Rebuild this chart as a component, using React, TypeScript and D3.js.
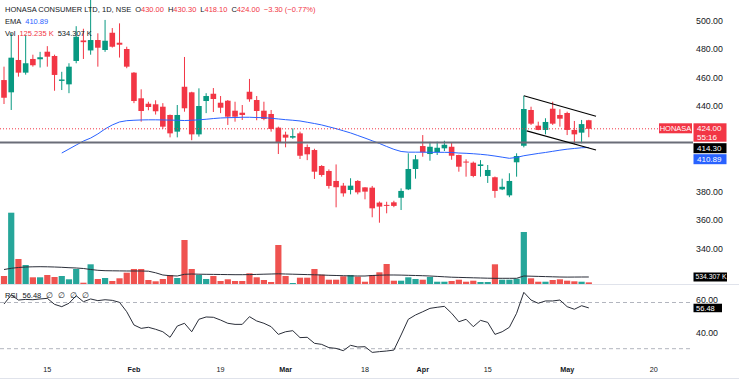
import React from "react";
import * as d3 from "d3";

// ---------------- data ----------------
const dates = [
  "2024-01-05","2024-01-08","2024-01-09","2024-01-10","2024-01-11","2024-01-12","2024-01-15","2024-01-16","2024-01-17","2024-01-18","2024-01-19","2024-01-20","2024-01-23","2024-01-24","2024-01-25","2024-01-29","2024-01-30","2024-01-31",
  "2024-02-01","2024-02-02","2024-02-05","2024-02-06","2024-02-07","2024-02-08","2024-02-09","2024-02-12","2024-02-13","2024-02-14","2024-02-15","2024-02-16","2024-02-19","2024-02-20","2024-02-21","2024-02-22","2024-02-23","2024-02-26","2024-02-27","2024-02-28","2024-02-29",
  "2024-03-01","2024-03-02","2024-03-04","2024-03-05","2024-03-06","2024-03-07","2024-03-11","2024-03-12","2024-03-13","2024-03-14","2024-03-15","2024-03-18","2024-03-19","2024-03-20","2024-03-21","2024-03-22","2024-03-26","2024-03-27","2024-03-28",
  "2024-04-01","2024-04-02","2024-04-03","2024-04-04","2024-04-05","2024-04-08","2024-04-09","2024-04-10","2024-04-12","2024-04-15","2024-04-16","2024-04-18","2024-04-19","2024-04-22","2024-04-23","2024-04-24","2024-04-25","2024-04-26","2024-04-29","2024-04-30",
  "2024-05-02","2024-05-03","2024-05-06","2024-05-07",
];

const openPrices = [
  458.2,449.6,472.3,463.4,473.0,472.8,478.1,475.1,457.6,455.2,471.6,486.0,479.0,486.3,479.3,491.4,484.4,480.0,
  463.4,445.4,441.6,441.2,439.5,433.7,422.0,453.5,449.6,420.1,443.5,448.6,442.3,443.7,436.7,435.3,450.0,444.2,436.7,434.4,424.8,
  419.9,417.8,420.8,411.2,409.1,397.9,394.4,387.4,384.1,381.1,387.4,382.9,382.7,372.2,370.6,372.4,375.6,381.5,395.8,
  411.9,406.3,407.7,410.3,411.4,405.6,401.0,400.2,397.9,390.9,390.0,381.5,377.3,400.5,412.1,437.2,426.2,423.2,438.1,433.7,
  435.1,423.2,421.3,430.0,
];
const highPrices = [
  467.6,491.0,489.8,490.0,476.0,478.0,482.0,476.0,464.0,470.0,496.0,494.2,516.0,491.0,500.4,494.7,498.0,481.6,
  463.8,451.7,443.0,444.0,442.0,434.0,440.7,474.4,450.0,452.4,449.0,452.6,447.0,444.2,443.0,440.7,459.0,447.0,443.0,437.2,425.5,
  422.0,424.3,422.0,413.0,410.0,398.5,395.5,399.0,386.0,389.3,388.0,383.0,383.9,373.0,372.8,373.5,382.2,406.8,405.6,
  419.6,414.9,415.0,415.6,414.6,405.8,402.6,401.0,402.0,398.6,390.5,389.0,392.8,406.8,447.2,439.5,429.0,431.4,443.0,437.7,
  436.0,429.5,430.2,430.3,
];
const lowPrices = [
  441.4,437.2,460.6,462.0,467.6,467.0,467.6,450.7,451.2,449.0,470.0,473.0,476.0,467.6,478.0,481.0,474.0,466.5,
  442.0,429.0,437.0,434.0,424.0,418.0,418.0,436.0,416.0,418.5,435.0,435.8,435.0,426.7,429.0,430.2,443.0,430.0,430.0,422.0,406.3,
  411.0,417.0,402.8,402.0,388.8,390.4,382.0,368.9,376.4,378.0,378.0,374.5,361.9,358.1,364.7,369.0,367.0,381.0,389.0,
  404.4,401.6,405.6,408.4,402.3,393.9,390.4,390.0,390.4,386.0,375.6,381.0,376.0,390.4,411.0,426.7,423.0,420.1,426.7,425.5,
  419.6,413.1,413.8,418.1,
];
const closePrices = [
  445.8,473.9,463.4,470.0,468.6,474.2,474.6,461.8,458.6,467.6,488.6,484.8,486.3,480.9,485.8,481.6,483.0,467.6,
  443.5,436.5,439.3,436.3,425.5,420.8,433.7,438.4,420.1,440.0,447.0,444.9,438.8,432.5,432.5,433.7,444.7,436.5,430.9,423.9,414.5,
  417.8,418.9,405.1,406.1,393.9,391.6,383.9,383.0,378.7,384.1,379.4,379.9,368.2,369.4,369.9,369.9,380.4,395.8,402.6,
  407.5,411.4,410.7,412.8,405.1,397.4,400.3,390.9,399.0,395.1,380.4,383.3,387.4,404.9,437.9,427.6,423.2,428.8,427.6,431.1,
  423.2,420.1,427.3,424.0,
];
// volume in thousands
const volumeK = [
  610,5440,1908,1450,511,511,687,534,610,359,1145,99,1503,382,458,229,435,862,
  1145,1145,305,206,382,687,458,3357,1145,687,382,610,229,359,229,229,816,511,305,153,2976,
  610,76,481,481,1145,710,328,328,588,687,557,175,687,893,1526,252,252,511,382,
  328,534,175,175,229,328,175,252,153,153,1503,328,328,404,3968,435,175,175,305,359,
  252,206,175,125.235,
];
const volumeMAK = [
  1106,1198,1259,1297,1312,1320,1312,1297,1274,1244,1221,1183,1106,1045,1015,1007,1000,992,
  992,992,977,855,687,633,610,740,763,748,740,732,725,717,710,710,717,732,748,763,778,
  763,748,732,717,702,687,664,649,633,618,610,610,649,672,687,687,679,664,649,
  633,610,580,549,519,504,488,473,458,443,435,435,435,435,610,595,580,565,549,534,
  526,530,533,534.307,
];
const emaValues: (number | null)[] = [
  null,null,null,null,null,null,null,null,
  407.0,409.8,412.6,415.4,417.5,420.4,423.9,426.7,428.8,429.7,
  430.0,430.2,430.3,430.3,430.2,430.1,430.0,429.8,430.0,430.3,430.7,431.2,431.6,431.8,431.9,432.1,432.1,431.9,431.8,431.4,430.9,
  430.4,430.0,429.5,428.6,427.7,426.7,425.4,424.1,422.6,421.1,419.3,417.5,415.6,413.7,411.6,409.6,408.1,407.6,407.6,
  407.6,407.5,407.5,407.5,407.4,407.0,406.8,406.5,406.1,405.6,404.9,404.1,403.3,403.9,405.1,405.9,406.7,407.4,408.2,409.0,
  409.7,410.2,410.7,410.89,
];
const rsiValues = [
  59.0,64.9,61.6,62.0,61.8,62.3,62.7,58.8,57.3,59.5,64.4,60.5,62.3,61.2,61.8,61.4,60.1,54.0,
  45.4,43.2,43.9,42.6,41.0,37.4,44.7,46.5,41.0,49.1,50.6,50.4,48.6,46.5,45.8,45.8,50.8,48.0,46.5,44.3,39.3,
  41.0,41.7,37.2,37.4,33.5,32.8,30.7,30.2,28.7,32.2,31.1,31.3,27.6,28.1,28.5,29.1,38.9,49.1,51.9,
  54.0,56.2,56.9,57.5,53.0,47.5,49.1,44.3,48.4,47.1,39.3,41.0,43.9,53.0,66.6,61.6,59.5,61.0,61.0,61.6,
  57.3,55.6,57.9,56.48,
];

const timeTickIndex = [6, 18, 30, 39, 50, 58, 67, 78, 90];
const timeTickLabels = ["15", "Feb", "19", "Mar", "18", "Apr", "15", "May", "20"];
const timeTickIsMonth = [false, true, false, true, false, true, false, true, false];

const rsiTicks = [40, 60];
const rsiBands = [60, 30];
const horizontalLevel = 414.3;
const trendUpper: [number, number][] = [[72, 447.2], [82, 432.8]];
const trendLower: [number, number][] = [[72.4, 422.5], [82, 409.1]];

const symbolTitle = "HONASA CONSUMER LTD, 1D, NSE";
const ticker = "HONASA";
const countdown = "55:16";

// ---------------- styling ----------------
const W = 739;
const H = 380;
const PLOT_R = 693;
const UP = "#089981";
const DOWN = "#f23645";
const VOL_UP = "#26a69a";
const VOL_DOWN = "#ef5350";
const TEXT = "#131722";
const FONT = "'Liberation Sans', Arial, sans-serif";

export default function App() {
  const n = dates.length;
  const x = d3.scaleLinear().domain([0, n - 1]).range([4, 588.8]);
  const y = d3.scaleLinear().domain([340, 500]).range([248.5, 20.5]);
  const yVol = d3.scaleLinear().domain([0, d3.max(volumeK) as number]).range([284, 212.7]);
  const yRsi = d3.scaleLinear().domain([30, 60]).range([348.7, 302.5]);

  const bodyW = 5.6;
  const volW = 6.2;
  const f2 = d3.format(".2f");

  const emaLine = d3
    .line<number | null>()
    .defined((d) => d != null)
    .x((_, i) => x(i))
    .y((d) => y(d as number));
  const volMaLine = d3
    .line<number>()
    .x((_, i) => x(i))
    .y((d) => yVol(d));
  const rsiLine = d3
    .line<number>()
    .x((_, i) => x(i))
    .y((d) => yRsi(d));

  const last = n - 1;
  const lastClose = closePrices[last];
  const prevClose = closePrices[last - 1];
  const change = lastClose - prevClose;
  const changePct = (change / prevClose) * 100;
  const lastEma = emaValues[last] as number;

  // price-scale labels with stacking
  const closeY = y(lastClose);
  const redTop = closeY - 5.5;
  const redH = 18.4;
  const boxH = 10;
  const hTop = Math.max(y(horizontalLevel) - boxH / 2, redTop + redH + 1.5);
  const eTop = Math.max(y(lastEma) - boxH / 2, hTop + boxH + 1);
  const boxes = [
    { top: redTop, h: redH },
    { top: hTop, h: boxH },
    { top: eTop, h: boxH },
  ];
  const priceTicks = y
    .ticks(8)
    .filter((t) => !boxes.some((b) => y(t) > b.top - 3 && y(t) < b.top + b.h + 3));

  const volMaY = yVol(volumeMAK[last]);
  const rsiY = yRsi(rsiValues[last]);
  const rsiBoxTop = rsiY - 4.2;
  const rsiBoxH = 8.5;

  return (
    <svg
      width={W}
      height={H}
      style={{ position: "absolute", left: 0, top: 0, background: "#fff" }}
      fontFamily={FONT}
    >
      <defs>
        <clipPath id="mainClip">
          <rect x={0} y={0} width={PLOT_R} height={284} />
        </clipPath>
        <clipPath id="rsiClip">
          <rect x={0} y={285} width={PLOT_R} height={73} />
        </clipPath>
      </defs>
      <rect x={0} y={0} width={W} height={H} fill="#fff" />

      {/* main pane */}
      <g clipPath="url(#mainClip)">
        {/* volume */}
        {volumeK.map((v, i) => (
          <rect
            key={"v" + i}
            x={x(i) - volW / 2}
            y={yVol(v)}
            width={volW}
            height={284 - yVol(v)}
            fill={closePrices[i] >= openPrices[i] ? VOL_UP : VOL_DOWN}
          />
        ))}
        <path d={volMaLine(volumeMAK) || ""} fill="none" stroke="#2a2e39" strokeWidth={1} />

        {/* candles */}
        {dates.map((_, i) => {
          const o = openPrices[i];
          const c = closePrices[i];
          const col = c >= o ? UP : DOWN;
          const top = y(Math.max(o, c));
          const bot = y(Math.min(o, c));
          return (
            <g key={"c" + i}>
              <line x1={x(i)} x2={x(i)} y1={y(highPrices[i])} y2={y(lowPrices[i])} stroke={col} strokeWidth={1} />
              <rect x={x(i) - bodyW / 2} y={top} width={bodyW} height={Math.max(1, bot - top)} fill={col} />
            </g>
          );
        })}

        {/* EMA */}
        <path d={emaLine(emaValues) || ""} fill="none" stroke="#2962ff" strokeWidth={1} />

        {/* close price line */}
        <line x1={0} x2={659} y1={closeY} y2={closeY} stroke={DOWN} strokeWidth={1} strokeDasharray="1 2" />

        {/* horizontal level */}
        <line x1={0} x2={PLOT_R} y1={y(horizontalLevel)} y2={y(horizontalLevel)} stroke="#6a6d78" strokeWidth={2} />

        {/* trend lines */}
        <line x1={x(trendUpper[0][0])} y1={y(trendUpper[0][1])} x2={x(trendUpper[1][0])} y2={y(trendUpper[1][1])} stroke="#000" strokeWidth={1.2} />
        <line x1={x(trendLower[0][0])} y1={y(trendLower[0][1])} x2={x(trendLower[1][0])} y2={y(trendLower[1][1])} stroke="#000" strokeWidth={1.2} />
      </g>

      {/* pane separators */}
      <line x1={0} x2={W} y1={284.5} y2={284.5} stroke="#e0e3eb" strokeWidth={1} />
      <line x1={0} x2={W} y1={378.5} y2={378.5} stroke="#e0e3eb" strokeWidth={1} />

      {/* RSI pane */}
      {rsiBands.map((b) => (
        <line key={"b" + b} x1={0} x2={PLOT_R} y1={yRsi(b)} y2={yRsi(b)} stroke="#b2b5be" strokeWidth={1} strokeDasharray="4 3" />
      ))}
      <g clipPath="url(#rsiClip)">
        <path d={rsiLine(rsiValues) || ""} fill="none" stroke="#2a2e39" strokeWidth={1} />
      </g>

      {/* legends */}
      <text x={5} y={11.5} fontSize={7.5} fill={TEXT}>
        <tspan>{symbolTitle}</tspan>
        <tspan dx={4}>O</tspan>
        <tspan fill={DOWN}>{f2(openPrices[last])}</tspan>
        <tspan dx={4}>H</tspan>
        <tspan fill={DOWN}>{f2(highPrices[last])}</tspan>
        <tspan dx={4}>L</tspan>
        <tspan fill={DOWN}>{f2(lowPrices[last])}</tspan>
        <tspan dx={4}>C</tspan>
        <tspan fill={DOWN}>{f2(lastClose)}</tspan>
        <tspan dx={4} fill={DOWN}>{`${change < 0 ? "−" : "+"}${f2(Math.abs(change))} (${change < 0 ? "−" : "+"}${f2(Math.abs(changePct))}%)`}</tspan>
      </text>
      <text x={5} y={23.5} fontSize={7.5} fill={TEXT}>
        <tspan>EMA</tspan>
        <tspan dx={4} fill="#2962ff">{f2(lastEma)}</tspan>
      </text>
      <text x={5} y={35.5} fontSize={7.5} fill={TEXT}>
        <tspan>Vol</tspan>
        <tspan dx={4} fill={DOWN}>{`${d3.format(".3f")(volumeK[last])} K`}</tspan>
        <tspan dx={4}>{`${d3.format(".3f")(volumeMAK[last])} K`}</tspan>
      </text>
      <text x={5} y={298} fontSize={7.5} fill={TEXT}>
        <tspan>RSI</tspan>
        <tspan dx={5}>{f2(rsiValues[last])}</tspan>
        <tspan dx={5}>∅</tspan>
        <tspan dx={5}>∅</tspan>
        <tspan dx={5}>∅</tspan>
        <tspan dx={5}>∅</tspan>
      </text>

      {/* price axis ticks */}
      {priceTicks.map((t) => (
        <text key={"pt" + t} x={696} y={y(t) + 3} fontSize={8.8} fill={TEXT}>
          {f2(t)}
        </text>
      ))}
      {rsiTicks.map((t) => {
        let base = yRsi(t) + 3;
        // keep the tick text clear of the current-value box
        if (base > rsiBoxTop - 0.5 && base - 6.5 < rsiBoxTop + rsiBoxH) base = rsiBoxTop - 0.8;
        return (
          <text key={"rt" + t} x={696} y={base} fontSize={8.8} fill={TEXT}>
            {f2(t)}
          </text>
        );
      })}

      {/* price labels */}
      <rect x={659} y={redTop} width={33} height={boxH} fill={DOWN} />
      <text x={675.5} y={redTop + 7.5} fontSize={7.5} fill="#fff" textAnchor="middle">{ticker}</text>
      <rect x={693.5} y={redTop} width={33} height={redH} fill={DOWN} />
      <text x={697} y={redTop + 8} fontSize={8} fill="#fff">{f2(lastClose)}</text>
      <text x={697} y={redTop + 16.5} fontSize={8} fill="#fff">{countdown}</text>
      <rect x={693.5} y={hTop} width={33} height={boxH} fill="#000" />
      <text x={697} y={hTop + 8} fontSize={8} fill="#fff">{f2(horizontalLevel)}</text>
      <rect x={693.5} y={eTop} width={33} height={boxH} fill="#2962ff" />
      <text x={697} y={eTop + 8} fontSize={8} fill="#fff">{f2(lastEma)}</text>

      <rect x={693.5} y={volMaY - 4.5} width={33.5} height={9} fill="#000" />
      <text x={695.5} y={volMaY + 2.5} fontSize={6.8} fill="#fff">{`${d3.format(".3f")(volumeMAK[last])} K`}</text>

      <rect x={693.5} y={rsiBoxTop} width={28.5} height={rsiBoxH} fill="#000" />
      <text x={696} y={rsiY + 2.7} fontSize={7.5} fill="#fff">{f2(rsiValues[last])}</text>

      {/* time axis */}
      {timeTickIndex.map((ti, k) => (
        <text
          key={"tt" + k}
          x={x(ti)}
          y={372}
          fontSize={7.2}
          fill={TEXT}
          textAnchor="middle"
          fontWeight={timeTickIsMonth[k] ? 700 : 400}
        >
          {timeTickLabels[k]}
        </text>
      ))}
    </svg>
  );
}
